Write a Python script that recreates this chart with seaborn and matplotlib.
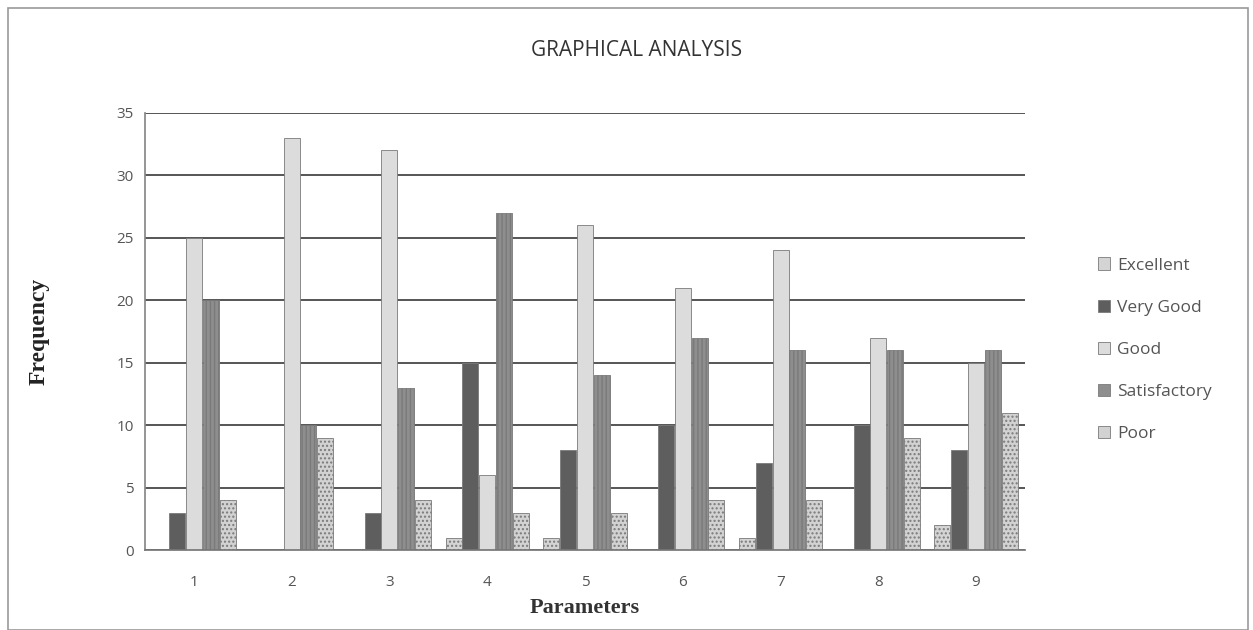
import matplotlib
matplotlib.use('Agg')
import matplotlib.pyplot as plt
import pandas as pd
import seaborn as sns
from matplotlib.patches import Rectangle

parameters = ['1', '2', '3', '4', '5', '6', '7', '8', '9']
ratings = ['Excellent', 'Very Good', 'Good', 'Satisfactory', 'Poor']
excellent = [0, 0, 0, 1, 1, 0, 1, 0, 2]
very_good = [3, 0, 3, 15, 8, 10, 7, 10, 8]
good = [25, 33, 32, 6, 26, 21, 24, 17, 15]
satisfactory = [20, 10, 13, 27, 14, 17, 16, 16, 16]
poor = [4, 9, 4, 3, 3, 4, 4, 9, 11]

colors = ['#d4d4d4', '#5e5e5e', '#dcdcdc', '#8e8e8e', '#d2d2d2']
hatches = ['....', '', '', '||||', '....']

df = pd.DataFrame({
    'Parameters': parameters * 5,
    'Rating': sum([[r] * len(parameters) for r in ratings], []),
    'Frequency': excellent + very_good + good + satisfactory + poor,
})

sns.set_theme(style='white')
plt.rcParams['font.family'] = ['Open Sans', 'DejaVu Sans']
plt.rcParams['hatch.color'] = '#b0b0b0'

fig = plt.figure(figsize=(12.53, 6.30), dpi=100)
ax = fig.add_axes([145 / 1253, 1 - 550 / 630, 880 / 1253, 437 / 630])

sns.barplot(
    data=df, x='Parameters', y='Frequency', hue='Rating',
    hue_order=ratings, palette=colors, width=0.86, gap=0.05,
    edgecolor='#7a7a7a', linewidth=0.6, ax=ax
)
for container, h in zip(ax.containers, hatches):
    for bar in container:
        bar.set_hatch(h)

ax.set_ylim(0, 35)
ax.set_yticks(range(0, 36, 5))
ax.yaxis.grid(True, color='#555555', linewidth=1.4)
ax.set_axisbelow(True)
for side in ['top', 'right']:
    ax.spines[side].set_visible(False)
ax.spines['left'].set_color('#888888')
ax.spines['bottom'].set_color('#777777')
ax.tick_params(axis='both', colors='#555555', labelsize=11, length=0)
ax.tick_params(axis='x', pad=18)
ax.tick_params(axis='y', pad=8)

ax.set_ylabel('Frequency', family='Liberation Serif', fontweight='bold',
              fontsize=17, color='#222222', labelpad=48)
ax.set_xlabel('Parameters', family='Liberation Serif', fontweight='bold',
              fontsize=16, color='#333333', labelpad=6)
fig.text(637 / 1253, 1 - 50 / 630, 'GRAPHICAL ANALYSIS', ha='center',
         va='center', fontsize=15, color='#333333')

handles, labels = ax.get_legend_handles_labels()
ax.legend(handles, labels, loc='center left', bbox_to_anchor=(1.065, 0.458),
          frameon=False, fontsize=12.5, labelcolor='#555555',
          handlelength=0.7, handleheight=0.7, handletextpad=0.4,
          labelspacing=1.5)

fig.patches.append(Rectangle((8 / 1253, 0.0), 1240 / 1253, 1 - 8 / 630,
                             transform=fig.transFigure, fill=False,
                             edgecolor='#999999', linewidth=1.2))

fig.savefig('out.png', dpi=100)
